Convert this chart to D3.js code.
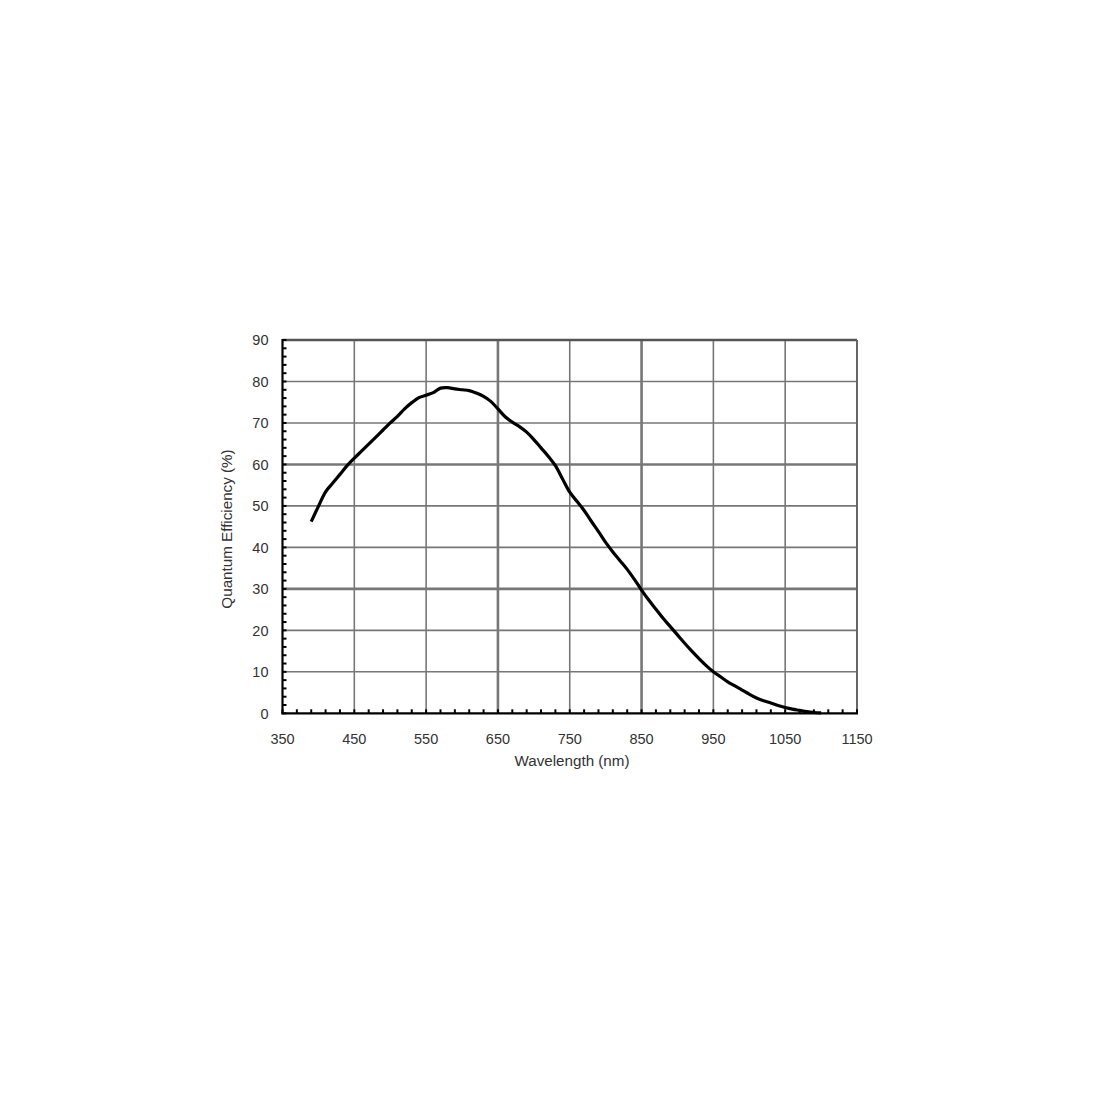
<!DOCTYPE html>
<html><head><meta charset="utf-8">
<script src="https://cdn.jsdelivr.net/npm/d3@7"></script>
<style>body{margin:0;background:#fff}</style>
</head><body>
<svg id="c" width="1100" height="1100"></svg>
<script>
const wavelengths = [390,400,410,420,430,440,450,460,470,480,490,500,510,520,530,540,550,560,570,580,590,600,610,620,630,640,650,660,670,680,690,700,710,720,730,740,750,760,770,780,790,800,810,820,830,840,850,860,870,880,890,900,910,920,930,940,950,960,970,980,990,1000,1010,1020,1030,1040,1050,1060,1070,1080,1090,1100];
const qe = [46.2,49.9,53.4,55.5,57.6,59.7,61.5,63.2,64.9,66.6,68.3,70.0,71.6,73.4,74.9,76.1,76.7,77.3,78.4,78.5,78.2,78.0,77.8,77.2,76.4,75.2,73.4,71.5,70.2,69.1,67.8,66.0,64.0,62.0,59.7,56.5,53.3,51.1,48.9,46.3,43.8,41.2,38.9,36.8,34.7,32.3,29.7,27.3,25.1,22.9,20.9,18.9,16.9,15.0,13.2,11.5,10.0,8.8,7.6,6.6,5.6,4.6,3.7,3.0,2.5,1.9,1.4,1.0,0.7,0.4,0.2,0.1];
const xTicks = [350,450,550,650,750,850,950,1050,1150];
const yTicks = [0,10,20,30,40,50,60,70,80,90];
const thickX = [650,850];
const thickY = [30,60];

const svg = d3.select("#c");
const L = 282.5, R = 857, T = 340, B = 713.3;
const x = d3.scaleLinear().domain([350,1150]).range([L,R]);
const y = d3.scaleLinear().domain([0,90]).range([B,T]);

// grid
svg.append("g").selectAll("line").data(xTicks.slice(1,-1)).join("line")
  .attr("x1",d=>x(d)).attr("x2",d=>x(d)).attr("y1",T).attr("y2",B)
  .attr("stroke","#777").attr("stroke-width",d=>thickX.includes(d)?2.6:1.6);
svg.append("g").selectAll("line").data(yTicks.slice(1,-1)).join("line")
  .attr("y1",d=>y(d)).attr("y2",d=>y(d)).attr("x1",L).attr("x2",R)
  .attr("stroke","#777").attr("stroke-width",d=>thickY.includes(d)?2.6:1.6);

// top and right borders
svg.append("line").attr("x1",L).attr("x2",R).attr("y1",T).attr("y2",T).attr("stroke","#555").attr("stroke-width",2.5);
svg.append("line").attr("x1",R).attr("x2",R).attr("y1",T).attr("y2",B).attr("stroke","#666").attr("stroke-width",2);

// minor ticks
const yMinor = d3.range(0,90.01,2);
svg.append("g").selectAll("line").data(yMinor).join("line")
  .attr("x1",L).attr("x2",L+4).attr("y1",d=>y(d)).attr("y2",d=>y(d))
  .attr("stroke","#000").attr("stroke-width",2);
const xMinor = d3.range(350,1150.01,20);
svg.append("g").selectAll("line").data(xMinor).join("line")
  .attr("x1",d=>x(d)).attr("x2",d=>x(d)).attr("y1",B).attr("y2",B-4)
  .attr("stroke","#000").attr("stroke-width",2);

// axes lines
svg.append("line").attr("x1",L).attr("x2",L).attr("y1",T-1).attr("y2",B+1).attr("stroke","#000").attr("stroke-width",2.2);
svg.append("line").attr("x1",L-1).attr("x2",R+1).attr("y1",B).attr("y2",B).attr("stroke","#000").attr("stroke-width",2.2);

// labels
const font = "'Liberation Sans', Arial, sans-serif";
svg.append("g").selectAll("text").data(yTicks).join("text")
  .attr("x",L-14).attr("y",d=>y(d)).attr("dy","0.36em").attr("text-anchor","end")
  .attr("font-family",font).attr("font-size",14.5).attr("fill","#333").text(d=>d);
svg.append("g").selectAll("text").data(xTicks).join("text")
  .attr("x",d=>x(d)).attr("y",B+25).attr("dy","0.36em").attr("text-anchor","middle")
  .attr("font-family",font).attr("font-size",14.5).attr("fill","#333").text(d=>d);
svg.append("text").attr("x",572).attr("y",761).attr("dy","0.36em").attr("text-anchor","middle")
  .attr("font-family",font).attr("font-size",15.2).attr("fill","#333").text("Wavelength (nm)");
svg.append("text").attr("transform","translate(227,529) rotate(-90)").attr("dy","0.36em").attr("text-anchor","middle")
  .attr("font-family",font).attr("font-size",15.2).attr("fill","#333").text("Quantum Efficiency (%)");

// curve
const pts = wavelengths.map((w,i)=>[w,qe[i]]);
svg.append("path").datum(pts)
  .attr("d",d3.line().x(d=>x(d[0])).y(d=>y(d[1])).curve(d3.curveCatmullRom))
  .attr("fill","none").attr("stroke","#000").attr("stroke-width",3.2).attr("stroke-linejoin","round");
</script>
</body></html>
